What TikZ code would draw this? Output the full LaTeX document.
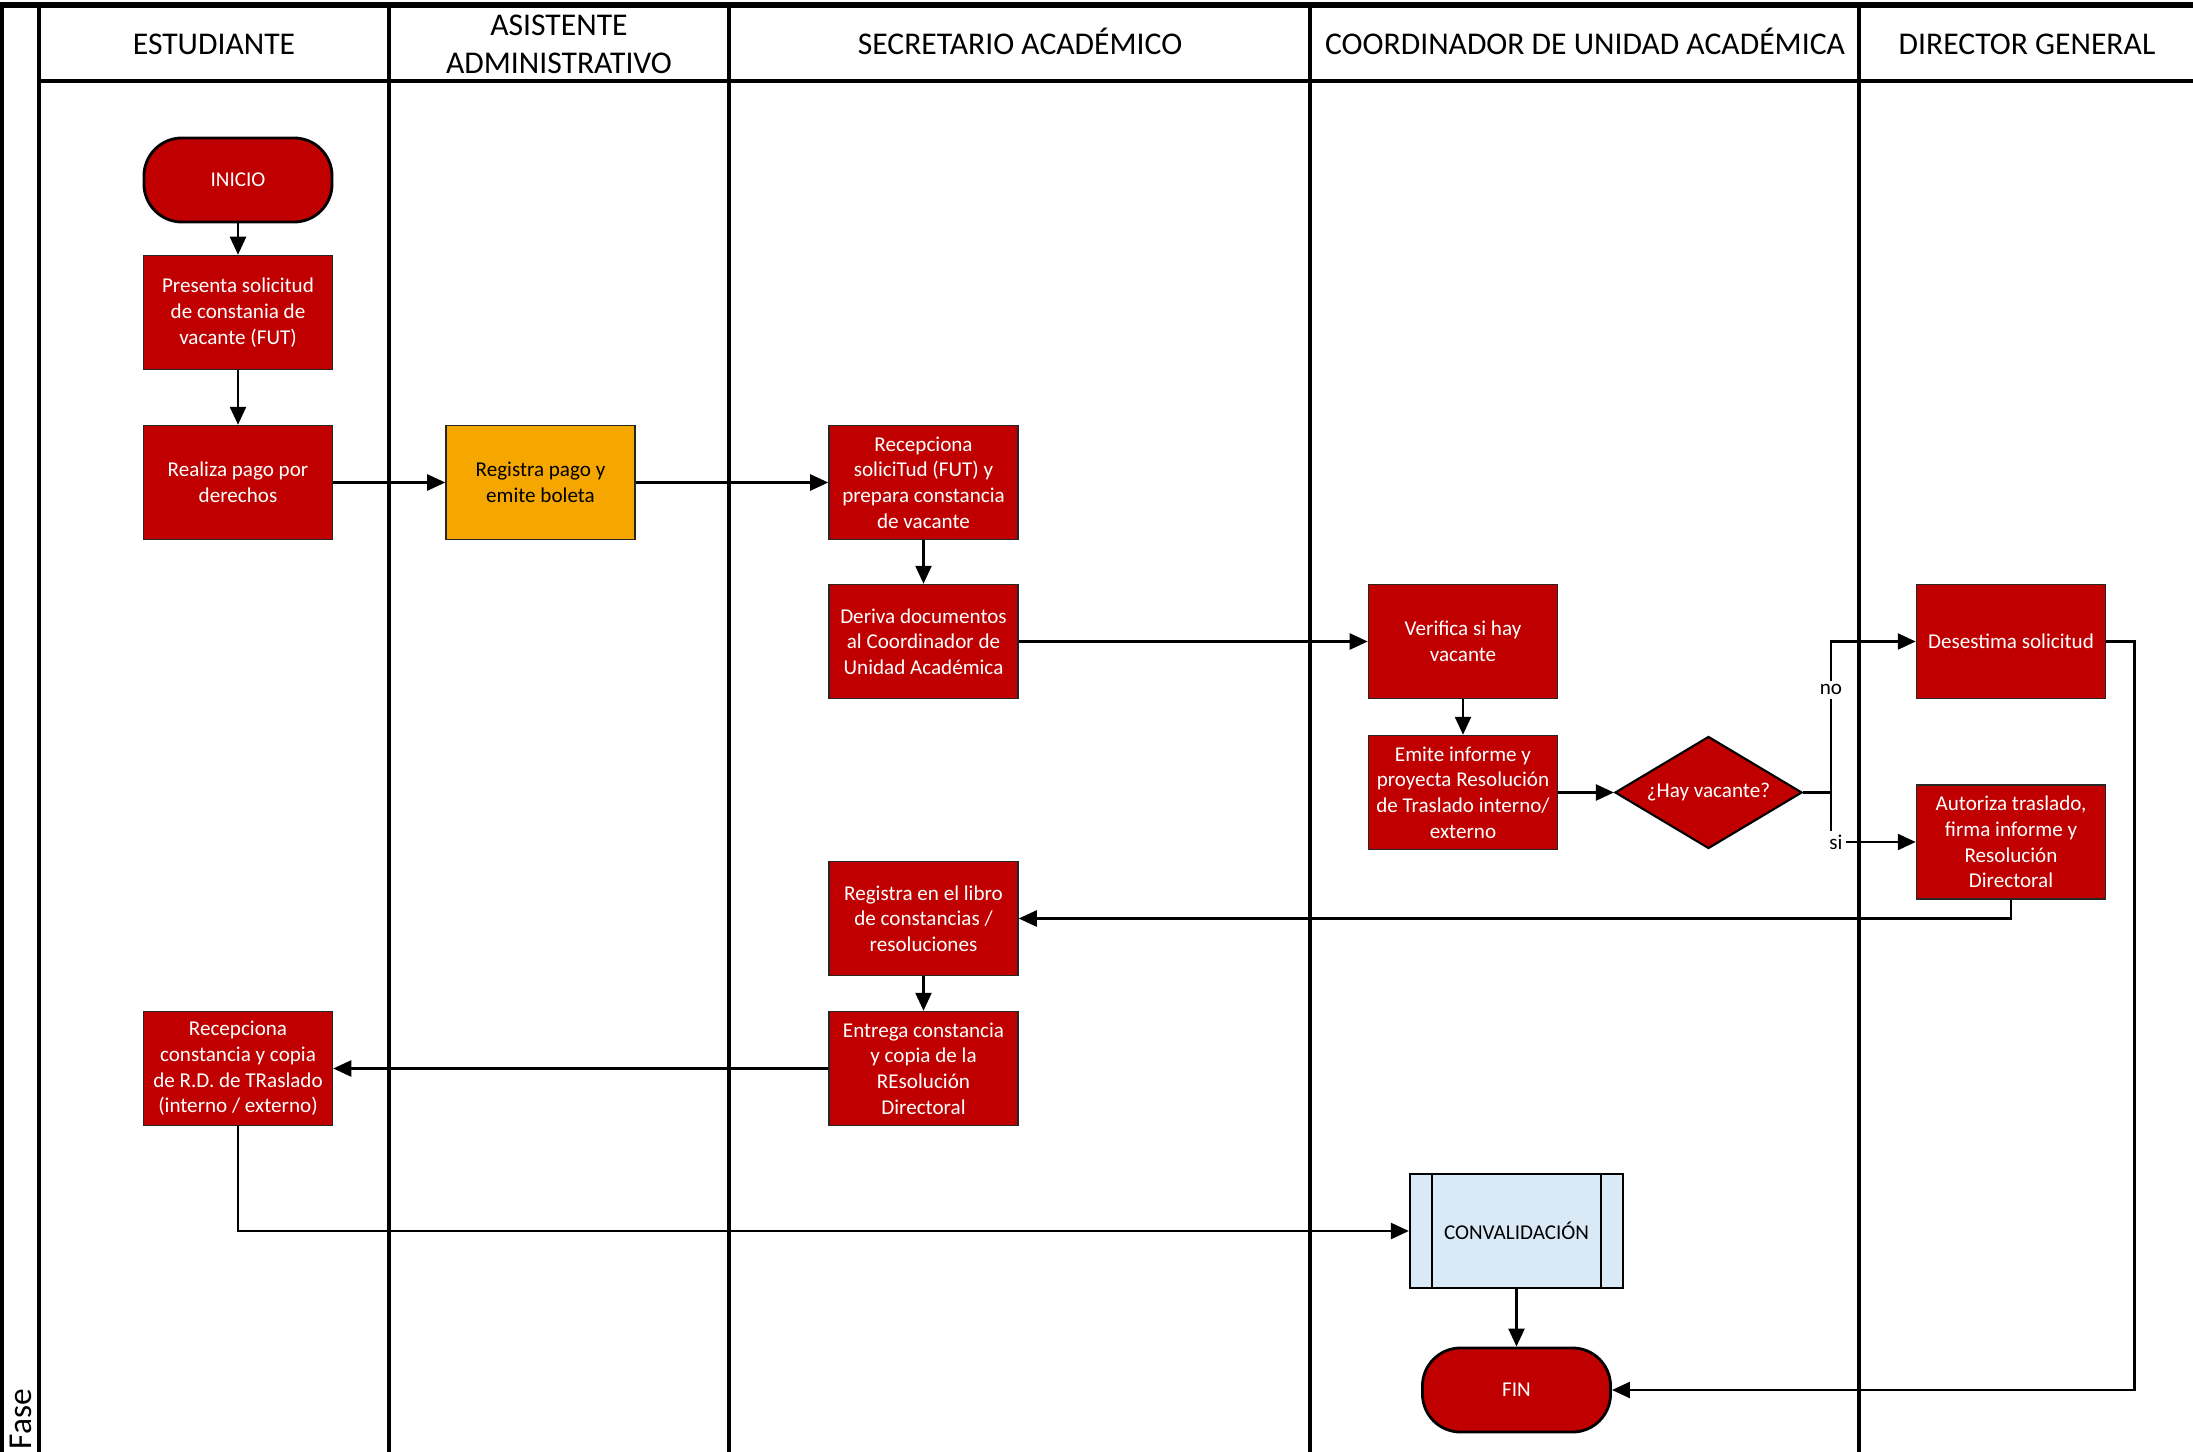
\documentclass[tikz,border=0pt]{standalone}
\usepackage{fontspec}
\setmainfont{Carlito}
\usetikzlibrary{arrows.meta,shapes.geometric}
\definecolor{boxred}{HTML}{C00000}
\definecolor{boxorange}{HTML}{F5A700}
\definecolor{boxblue}{HTML}{D9EAF6}

\begin{document}
\begin{tikzpicture}[x=0.01cm, y=-0.01cm,
    lane/.style={line width=0.9pt},
    head/.style={font=\fontsize{9}{11}\selectfont, align=center, inner sep=0pt},
    proc/.style={draw=black!85, line width=0.4pt, fill=boxred, text=white,
      minimum width=1.89cm, minimum height=1.14cm, inner sep=1pt,
      align=center, font=\fontsize{6}{7.3}\selectfont},
    term/.style={proc, minimum width=1.88cm, minimum height=0.84cm,
      rounded corners=0.38cm, draw=black, line width=0.8pt},
    decide/.style={proc, diamond, aspect=1.67, inner sep=0pt,
      minimum width=1.87cm, minimum height=1.12cm, draw=black, line width=0.6pt},
    sub/.style={proc, fill=boxblue, text=black, draw=black, line width=0.6pt,
      minimum width=2.13cm},
    lbl/.style={fill=white, inner sep=1pt, font=\fontsize{6}{7}\selectfont},
    conn/.style={line width=0.7pt},
    arr/.style={conn, -{Triangle[length=0.18cm,width=0.16cm]}}]

    % Fix the page to the reference size
    \useasboundingbox (0,0) rectangle (2193,1452);

    % Draw the swimlane frame
    \draw[line width=1.5pt] (0,5) -- (2193,5);
    \draw[line width=1.1pt] (39,81) -- (2193,81);
    \draw[lane] (2,5) -- (2,1452);
    \foreach \x in {39,389,729,1310,1859}
        \draw[lane] (\x,5) -- (\x,1452);

    % Lane titles
    \node[head, anchor=base] (hest) at (214,54.5) {ESTUDIANTE};
    \node[head] (hasi) at (559,44.5) {ASISTENTE\\ADMINISTRATIVO};
    \node[head, anchor=base] (hsec) at (1020,54.5) {SECRETARIO ACADÉMICO};
    \node[head, anchor=base] (hcoo) at (1585,54.5) {COORDINADOR DE UNIDAD ACADÉMICA};
    \node[head, anchor=base] (hdir) at (2027,54.5) {DIRECTOR GENERAL};
    \node[rotate=90, anchor=west, inner sep=0pt, font=\fontsize{9.5}{11}\selectfont] (fase) at (21,1450) {Fase};

    % ESTUDIANTE lane
    \node[term] (inicio) at (238,180) {INICIO};
    \node[proc] (presenta) at (238,312.5) {Presenta solicitud\\de constania de\\vacante (FUT)};
    \node[proc] (realiza) at (238,482.5) {Realiza pago por\\derechos};
    \node[proc] (recibe) at (238,1068.5) {Recepciona\\constancia y copia\\de R.D. de TRaslado\\(interno / externo)};

    % ASISTENTE ADMINISTRATIVO lane
    \node[proc, fill=boxorange, text=black] (boleta) at (540.5,482.5) {Registra pago y\\emite boleta};

    % SECRETARIO ACADEMICO lane
    \node[proc] (recepciona) at (923.5,482.5) {Recepciona\\soliciTud (FUT) y\\prepara constancia\\de vacante};
    \node[proc] (deriva) at (923.5,641.5) {Deriva documentos\\al Coordinador de\\Unidad Académica};
    \node[proc] (libro) at (923.5,918.5) {Registra en el libro\\de constancias /\\resoluciones};
    \node[proc] (entrega) at (923.5,1068.5) {Entrega constancia\\y copia de la\\REsolución\\Directoral};

    % COORDINADOR lane
    \node[proc] (verifica) at (1463,641.5) {Verifica si hay\\vacante};
    \node[proc] (emite) at (1463,792.5) {Emite informe y\\proyecta Resolución\\de Traslado interno/\\externo};
    \node[decide] (hay) at (1708.5,792.5) {¿Hay vacante?};
    \node[sub] (conv) at (1516.5,1231) {CONVALIDACIÓN};
    \draw[line width=0.5pt] ([xshift=0.23cm]conv.north west) -- ([xshift=0.23cm]conv.south west);
    \draw[line width=0.5pt] ([xshift=-0.23cm]conv.north east) -- ([xshift=-0.23cm]conv.south east);
    \node[term] (fin) at (1516.5,1390) {FIN};

    % DIRECTOR GENERAL lane
    \node[proc] (desestima) at (2011,641.5) {Desestima solicitud};
    \node[proc] (autoriza) at (2011,842) {Autoriza traslado,\\firma informe y\\Resolución\\Directoral};

    % Connectors
    \coordinate (split) at (1831,792.5);
    \draw[arr] (inicio) -- (presenta);
    \draw[arr] (presenta) -- (realiza);
    \draw[arr] (realiza) -- (boleta);
    \draw[arr] (boleta) -- (recepciona);
    \draw[arr] (recepciona) -- (deriva);
    \draw[arr] (deriva) -- (verifica);
    \draw[arr] (verifica) -- (emite);
    \draw[arr] (emite) -- (hay);
    \draw[conn] (hay.east) -- (split);
    \draw[arr] (split) |- node[lbl, pos=0.34] {no} (desestima.west);
    \draw[arr] (split) |- node[lbl, pos=0.5, xshift=0.05cm] {si} (autoriza.west);
    \draw[arr] (autoriza.south) |- (libro.east);
    \draw[arr] (libro) -- (entrega);
    \draw[arr] (entrega) -- (recibe);
    \draw[arr] (recibe.south) |- (conv.west);
    \draw[arr] (conv) -- (fin);
    \draw[arr] (desestima.east) -- ++(28,0) |- (fin.east);

\end{tikzpicture}
\end{document}
